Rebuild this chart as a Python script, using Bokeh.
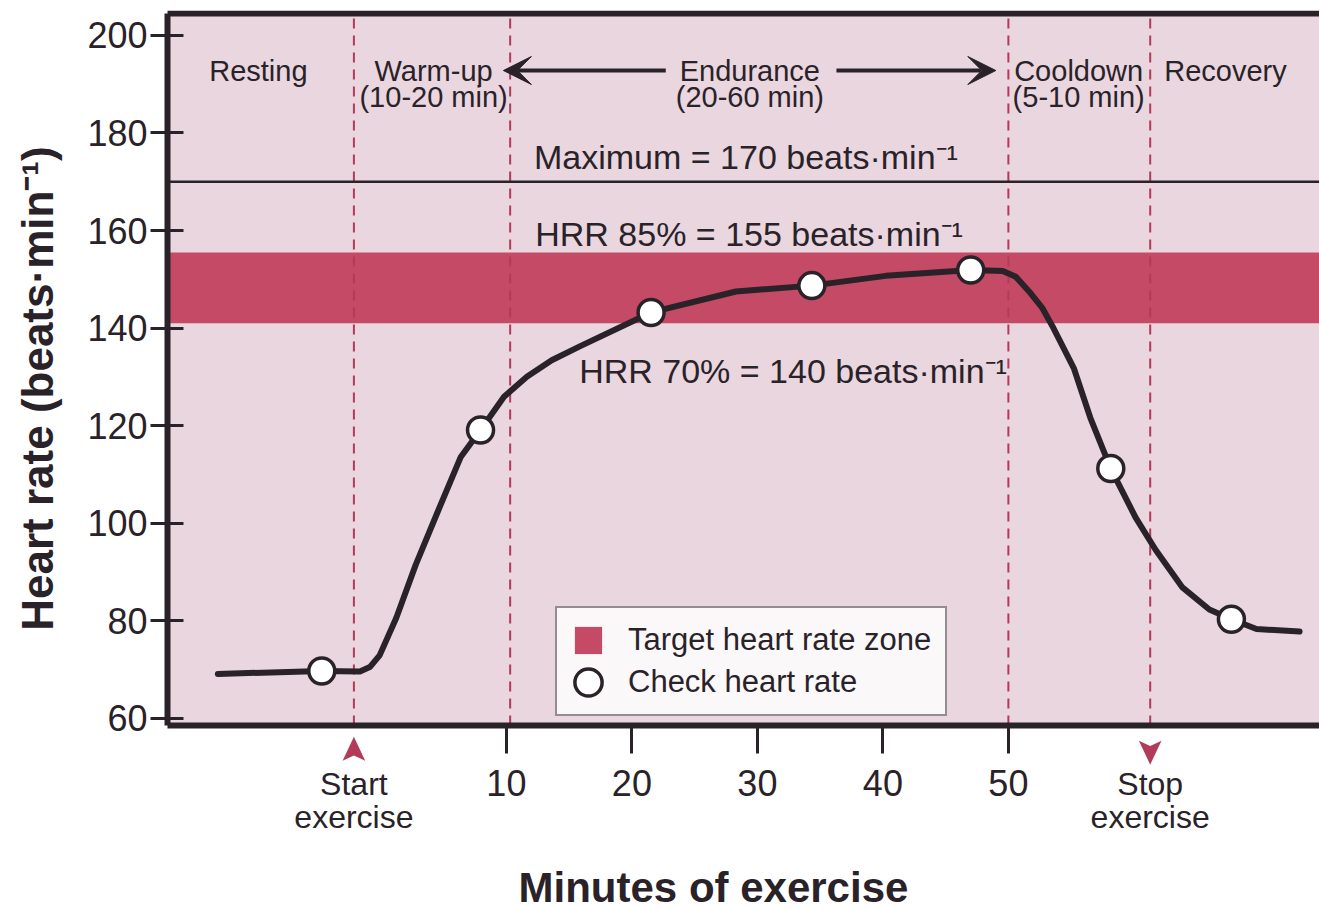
import math
from bokeh.plotting import figure
from bokeh.models import (BoxAnnotation, Label, Arrow, VeeHead, PolyAnnotation,
                          Legend, LegendItem, FixedTicker)
from bokeh.embed import file_html
from bokeh.resources import INLINE

# ---------------- data ----------------
curve_min = [-12.99, -4.71, -1.67, -0.88, -0.10, 1.23, 2.78, 4.57, 6.35, 7.94, 9.81, 11.63,
             13.61, 15.89, 21.53, 28.29, 34.34, 40.23, 47.0, 49.55, 50.59, 51.65, 52.68,
             53.59, 55.21, 56.53, 58.16, 60.13, 61.74, 63.84, 66.01, 67.77, 69.77, 73.2]
curve_hr = [69.1, 69.7, 69.6, 70.5, 72.9, 80.6, 91.5, 102.6, 113.5, 119.1, 125.9, 130.0,
            133.4, 136.3, 143.2, 147.5, 148.7, 150.7, 151.9, 151.7, 150.5, 147.5, 144.2,
            140.0, 131.8, 121.6, 111.2, 101.2, 94.5, 86.9, 82.3, 80.3, 78.3, 77.8]

check_min = [-4.71, 7.94, 21.53, 34.34, 47.0, 58.16, 67.77]
check_hr = [69.7, 119.1, 143.2, 148.7, 151.9, 111.2, 80.3]

max_hr = 170
zone_low = 141
zone_high = 155.5

phase_bounds = [-2.15, 10.3, 50.0, 61.3]          # dashed phase separators (min)
start_exercise = -2.15
stop_exercise = 61.3

phase_line1 = ["Resting", "Warm-up", "Endurance", "Cooldown", "Recovery"]
phase_line2 = ["", "(10-20 min)", "(20-60 min)", "(5-10 min)", ""]
phase_x = [-9.76, 4.2, 29.4, 55.6, 67.3]

endurance_arrow_left = [22.7, 9.76]    # start, tip
endurance_arrow_right = [36.3, 49.0]   # start, tip

y_ticks = [60, 80, 100, 120, 140, 160, 180, 200]
x_ticks = [10, 20, 30, 40, 50]

# chart box (axis limits)
X_MIN, X_MAX = -17.0, 74.79
Y_MIN, Y_MAX = 58.5, 204.5

# ---------------- styling ----------------
DARK = "#2a2229"
BAND = "#c44a66"
BG = "#e9d6de"
RED = "#b33a58"
FONT = "Liberation Sans"

p = figure(width=1319, height=910, output_backend="svg", toolbar_location=None,
           x_range=(-30.31, X_MAX), y_range=(20.6, 205.1),
           min_border_left=0, min_border_right=0, min_border_top=10, min_border_bottom=0)

p.background_fill_color = "white"
p.border_fill_color = "white"
p.outline_line_color = None
p.grid.visible = False

# axes (drawn at the edges of the chart box)
p.yaxis.ticker = FixedTicker(ticks=y_ticks)
p.xaxis.ticker = FixedTicker(ticks=x_ticks)
p.yaxis.bounds = (Y_MIN, Y_MAX)
p.xaxis.bounds = (X_MIN, X_MAX)
p.xaxis.fixed_location = Y_MIN
p.yaxis.fixed_location = X_MIN
for ax in (p.xaxis, p.yaxis):
    ax.axis_line_color = DARK
    ax.axis_line_width = 6
    ax.major_tick_line_color = DARK
    ax.major_tick_line_width = 3
    ax.minor_tick_line_color = None
    ax.major_label_text_font = FONT
    ax.major_label_text_font_size = "36px"
    ax.major_label_text_color = DARK
p.yaxis.major_tick_out = 17
p.yaxis.major_tick_in = 16
p.yaxis.major_label_standoff = 3
p.xaxis.major_tick_out = 28
p.xaxis.major_tick_in = 0
p.xaxis.major_label_standoff = 16

# chart background
p.add_layout(BoxAnnotation(left=X_MIN, right=X_MAX, bottom=Y_MIN, top=Y_MAX, fill_color=BG,
                           fill_alpha=1, line_alpha=0, level="underlay"))

# target heart-rate zone
zone = p.quad(left=[X_MIN], right=[X_MAX], bottom=[zone_low], top=[zone_high],
              fill_color=BAND, line_color=None)

# phase separators
p.segment(x0=phase_bounds, y0=[Y_MIN] * len(phase_bounds), x1=phase_bounds,
          y1=[Y_MAX] * len(phase_bounds), line_color=RED, line_width=2, line_dash="10 7")

# maximum line and top border of the chart box
p.segment(x0=[X_MIN], y0=[max_hr], x1=[X_MAX], y1=[max_hr], line_color=DARK, line_width=2.5)
p.segment(x0=[X_MIN], y0=[Y_MAX], x1=[X_MAX], y1=[Y_MAX], line_color=DARK, line_width=6)

# heart-rate curve and check points
p.line(curve_min, curve_hr, line_width=6, line_color=DARK, line_join="round", line_cap="round")
checks = p.ellipse(check_min, check_hr, width=26, height=26, width_units="screen",
                   height_units="screen", fill_color="white", line_color=DARK, line_width=3.5)

# phase labels
for name, sub, xv in zip(phase_line1, phase_line2, phase_x):
    p.add_layout(Label(x=xv, y=192.8, text=name, text_align="center", text_baseline="middle",
                       text_font=FONT, text_font_size="29px", text_color=DARK))
    if sub:
        p.add_layout(Label(x=xv, y=187.3, text=sub, text_align="center", text_baseline="middle",
                           text_font=FONT, text_font_size="29px", text_color=DARK))

for a in (endurance_arrow_left, endurance_arrow_right):
    p.add_layout(Arrow(end=VeeHead(size=28, fill_color=DARK, line_color=DARK, line_width=1),
                       x_start=a[0], y_start=192.8, x_end=a[1], y_end=192.8,
                       line_color=DARK, line_width=4))

# level labels
level_texts = ["Maximum = 170 beats\u00b7min\u207b\u00b9",
               "HRR 85% = 155 beats\u00b7min\u207b\u00b9",
               "HRR 70% = 140 beats\u00b7min\u207b\u00b9"]
level_x = [12.2, 12.3, 15.8]
level_y = [175.0, 159.2, 131.3]
for t, xv, yv in zip(level_texts, level_x, level_y):
    p.add_layout(Label(x=xv, y=yv, text=t, text_align="left", text_baseline="middle",
                       text_font=FONT, text_font_size="34px", text_color=DARK))

# start / stop markers under the axis
for xv, w1, tip, base, notch in ((start_exercise, "Start", 56.2, 51.3, 52.4),
                                 (stop_exercise, "Stop", 50.5, 55.4, 54.3)):
    p.add_layout(PolyAnnotation(xs=[xv, xv - 0.9, xv, xv + 0.9], ys=[tip, base, notch, base],
                                fill_color=RED, fill_alpha=1, line_alpha=0))
    p.add_layout(Label(x=xv, y=46.6, text=w1, text_align="center", text_baseline="middle",
                       text_font=FONT, text_font_size="32px", text_color=DARK))
    p.add_layout(Label(x=xv, y=39.8, text="exercise", text_align="center", text_baseline="middle",
                       text_font=FONT, text_font_size="32px", text_color=DARK))

# axis titles
p.add_layout(Label(x=26.5, y=25.3, text="Minutes of exercise", text_align="center",
                   text_baseline="middle", text_font=FONT, text_font_style="bold",
                   text_font_size="42px", text_color=DARK))
p.add_layout(Label(x=-27.36, y=127.6, text="Heart rate (beats\u00b7min\u207b\u00b9)",
                   angle=math.pi / 2, text_align="center", text_baseline="middle",
                   text_font=FONT, text_font_style="bold", text_font_size="44px",
                   text_color=DARK))

legend = Legend(items=[LegendItem(label="Target heart rate zone", renderers=[zone]),
                       LegendItem(label="Check heart rate", renderers=[checks])],
                location=(555, 194), glyph_width=34, glyph_height=34, spacing=6,
                padding=14, margin=0, label_standoff=23,
                label_text_font=FONT, label_text_font_size="31px", label_text_color=DARK,
                border_line_color=DARK, border_line_width=2.5,
                background_fill_color="#fbf8f9", background_fill_alpha=1)
p.add_layout(legend)

open("out.html", "w").write(file_html(p, INLINE))
